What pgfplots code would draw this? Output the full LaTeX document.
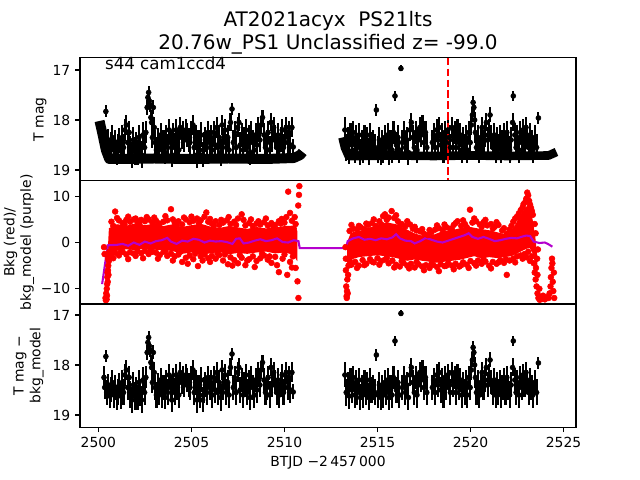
\documentclass[border=0pt]{standalone}
\usepackage{pgfplots}
\pgfplotsset{compat=1.18}
\usepackage{pgfplotstable}
\usepackage{fontspec}
\setmainfont{DejaVu Sans}
\definecolor{mpurple}{RGB}{180,0,205}

\pgfplotstableread{
t m e
2500.30 18.25 0.22
2500.34 18.45 0.24
2500.40 17.83 0.12
2500.45 18.55 0.25
2500.52 18.40 0.22
2500.60 18.62 0.25
2500.68 18.50 0.25
2500.75 18.35 0.24
2500.83 18.60 0.26
2500.90 18.45 0.25
2500.98 18.65 0.25
2501.05 18.55 0.26
2501.12 18.40 0.24
2501.20 18.62 0.27
2501.28 18.35 0.24
2501.35 18.55 0.26
2501.42 18.20 0.22
2501.50 18.10 0.20
2501.57 18.45 0.25
2501.65 18.25 0.23
2501.72 18.60 0.27
2501.80 18.70 0.26
2501.88 18.40 0.25
2501.95 18.62 0.28
2502.02 18.50 0.26
2502.10 18.65 0.25
2502.18 18.35 0.24
2502.25 18.55 0.27
2502.32 18.70 0.27
2502.40 18.30 0.25
2502.48 18.55 0.26
2502.55 18.25 0.22
2502.62 17.75 0.15
2502.66 17.55 0.12
2502.70 17.45 0.12
2502.74 17.62 0.13
2502.78 17.70 0.14
2502.82 17.95 0.15
2502.86 18.05 0.18
2502.90 18.35 0.22
2502.95 17.75 0.14
2503.00 18.15 0.20
2503.05 18.45 0.25
2503.12 18.60 0.26
2503.20 18.40 0.24
2503.28 18.55 0.26
2503.35 18.30 0.24
2503.42 18.60 0.27
2503.50 18.45 0.25
2503.58 18.65 0.24
2503.65 18.35 0.24
2503.72 18.55 0.26
2503.80 18.20 0.22
2503.88 18.45 0.25
2503.95 18.70 0.25
2504.02 18.30 0.24
2504.10 18.55 0.26
2504.18 18.20 0.22
2504.25 18.45 0.25
2504.32 18.60 0.26
2504.40 18.15 0.21
2504.48 18.35 0.23
2504.55 18.25 0.22
2504.62 18.40 0.24
2504.70 18.20 0.22
2504.78 18.30 0.24
2504.85 18.40 0.24
2504.92 18.45 0.25
2505.00 18.25 0.23
2505.08 18.10 0.20
2505.15 18.55 0.26
2505.22 18.35 0.25
2505.30 18.70 0.27
2505.38 18.45 0.25
2505.45 18.60 0.27
2505.52 18.30 0.25
2505.60 18.70 0.25
2505.68 18.50 0.26
2505.75 18.40 0.25
2505.82 18.55 0.26
2505.90 18.25 0.22
2505.98 18.45 0.25
2506.05 18.35 0.24
2506.12 18.60 0.27
2506.20 18.25 0.23
2506.28 18.50 0.26
2506.35 18.15 0.21
2506.42 18.55 0.26
2506.50 18.35 0.24
2506.58 18.65 0.27
2506.65 18.10 0.20
2506.72 18.45 0.25
2506.80 18.20 0.22
2506.88 18.55 0.26
2506.95 18.35 0.24
2507.02 18.60 0.26
2507.10 18.05 0.18
2507.18 17.78 0.12
2507.25 18.45 0.25
2507.32 18.25 0.23
2507.40 18.55 0.26
2507.48 18.15 0.20
2507.55 18.05 0.18
2507.62 18.50 0.26
2507.70 18.30 0.24
2507.78 18.60 0.27
2507.85 18.40 0.25
2507.92 18.20 0.22
2508.00 18.55 0.26
2508.08 18.35 0.24
2508.15 18.65 0.25
2508.22 18.25 0.23
2508.30 18.45 0.25
2508.38 18.60 0.27
2508.45 18.30 0.24
2508.52 18.50 0.26
2508.60 18.15 0.21
2508.68 18.40 0.25
2508.75 18.10 0.18
2508.82 17.95 0.15
2508.90 18.30 0.24
2508.98 18.55 0.26
2509.05 18.45 0.25
2509.12 18.25 0.23
2509.20 18.60 0.27
2509.28 18.05 0.18
2509.35 18.40 0.25
2509.42 18.15 0.21
2509.50 18.35 0.24
2509.58 18.55 0.26
2509.65 18.30 0.24
2509.72 18.60 0.26
2509.80 18.40 0.25
2509.88 18.20 0.22
2509.95 18.55 0.26
2510.02 18.35 0.24
2510.10 18.15 0.21
2510.18 18.45 0.25
2510.25 18.25 0.23
2510.32 18.50 0.26
2510.40 18.15 0.20
2510.47 18.54 0.15
2513.25 18.20 0.25
2513.32 18.55 0.27
2513.40 18.40 0.25
2513.48 18.62 0.26
2513.55 18.30 0.24
2513.62 18.50 0.26
2513.70 18.25 0.23
2513.78 18.60 0.27
2513.85 18.35 0.24
2513.92 18.55 0.26
2514.00 18.30 0.24
2514.08 18.65 0.26
2514.15 18.45 0.25
2514.22 18.60 0.27
2514.30 18.35 0.24
2514.38 18.55 0.26
2514.45 18.40 0.25
2514.52 18.65 0.25
2514.60 18.30 0.24
2514.68 18.50 0.26
2514.75 18.45 0.25
2514.85 18.55 0.26
2514.94 17.80 0.12
2515.02 18.60 0.27
2515.10 18.40 0.25
2515.18 18.65 0.26
2515.25 18.45 0.25
2515.32 18.60 0.27
2515.40 18.35 0.24
2515.48 18.55 0.26
2515.55 18.30 0.24
2515.62 18.65 0.26
2515.70 18.45 0.25
2515.78 18.60 0.27
2515.86 18.25 0.23
2515.94 17.52 0.10
2516.02 18.50 0.26
2516.10 18.35 0.24
2516.18 18.60 0.27
2516.26 16.97 0.06
2516.34 18.45 0.25
2516.42 18.25 0.23
2516.50 18.55 0.26
2516.58 18.40 0.25
2516.66 18.65 0.25
2516.74 18.20 0.22
2516.82 18.05 0.18
2516.90 18.35 0.24
2516.98 18.55 0.26
2517.05 18.25 0.23
2517.12 18.60 0.27
2517.20 18.40 0.25
2517.28 18.15 0.21
2517.35 18.30 0.24
2517.42 18.10 0.20
2517.50 18.45 0.25
2517.58 18.25 0.23
2517.65 18.55 0.26
2517.95 18.45 0.25
2518.02 18.30 0.24
2518.10 18.55 0.26
2518.18 18.20 0.22
2518.25 18.40 0.25
2518.32 18.15 0.21
2518.40 18.50 0.26
2518.48 18.30 0.24
2518.55 18.60 0.27
2518.62 18.25 0.23
2518.70 18.45 0.25
2518.78 18.20 0.22
2518.85 18.35 0.24
2518.92 18.55 0.26
2519.00 18.15 0.21
2519.08 18.40 0.25
2519.15 18.25 0.23
2519.22 18.55 0.26
2519.30 18.20 0.22
2519.38 18.45 0.25
2519.45 18.30 0.24
2519.52 18.60 0.27
2519.60 18.40 0.25
2519.68 18.55 0.26
2519.75 18.35 0.24
2519.82 18.60 0.27
2519.90 18.25 0.23
2519.98 18.45 0.25
2520.05 18.10 0.20
2520.10 17.90 0.15
2520.14 17.65 0.12
2520.18 17.75 0.13
2520.22 18.00 0.16
2520.26 18.25 0.22
2520.32 18.55 0.26
2520.40 18.35 0.24
2520.48 18.60 0.27
2520.55 18.40 0.25
2520.62 18.15 0.21
2520.70 18.45 0.25
2520.78 18.30 0.24
2520.85 18.05 0.18
2520.92 18.40 0.25
2521.00 18.20 0.22
2521.05 17.90 0.15
2521.12 18.35 0.24
2521.20 18.55 0.26
2521.28 18.30 0.24
2521.35 18.60 0.27
2521.42 18.40 0.25
2521.50 18.55 0.26
2521.58 18.35 0.24
2521.65 18.60 0.27
2521.72 18.45 0.25
2521.80 18.30 0.24
2521.88 18.55 0.26
2521.95 18.25 0.23
2522.02 18.45 0.25
2522.10 18.60 0.27
2522.18 18.40 0.25
2522.26 18.05 0.18
2522.30 17.52 0.10
2522.38 18.30 0.24
2522.45 18.55 0.26
2522.52 18.35 0.24
2522.60 18.60 0.27
2522.68 18.25 0.23
2522.75 18.45 0.25
2522.82 18.20 0.22
2522.90 18.40 0.25
2522.98 18.15 0.21
2523.05 18.35 0.24
2523.12 18.55 0.26
2523.20 18.30 0.24
2523.28 18.45 0.25
2523.35 18.60 0.26
2523.45 18.35 0.24
2523.55 18.55 0.26
2523.65 17.96 0.12
}\spikes

\pgfplotsset{
  every axis/.style={
    scale only axis, width=357.12pt, height=88.704pt,
    xmin=2499.01, xmax=2525.67,
    axis line style={line width=0.8pt},
    tick style={line width=0.8pt, black},
    tick align=outside, major tick length=3.5pt,
    xtick pos=bottom, ytick pos=left,
    /pgf/number format/assume math mode=true,
    tick label style={font=\fontsize{10}{12}\selectfont},
    label style={font=\fontsize{10}{12}\selectfont},
    anchor=south west,
  },
}

\begin{document}
\begin{tikzpicture}
\path[use as bounding box] (0,0) rectangle (460.8pt,345.6pt);

% ---------- top panel ----------
\begin{axis}[name=top, at={(57.6pt,215.424pt)},
  y dir=reverse, ymin=16.752, ymax=19.216,
  ytick={17,18,19}, yticklabels={17,18,19}, xtick=\empty,
  ylabel={T mag},
  ylabel style={at={(axis description cs:-0.0806,0.5)}, anchor=center},
]
\addplot[black, line width=7.2pt, line join=round] coordinates {
(2500.06,18.02) (2500.20,18.25) (2500.40,18.60) (2500.58,18.78) (2501.0,18.78)
(2503.0,18.77) (2505.0,18.78) (2507.0,18.77) (2509.0,18.78) (2510.5,18.76)
(2510.85,18.70) (2510.98,18.64)};
\addplot[black, line width=6.2pt, line join=round] coordinates {
(2513.12,18.35) (2513.25,18.55) (2513.45,18.72) (2514.0,18.72) (2516.0,18.71)
(2518.0,18.72) (2520.0,18.71) (2522.0,18.72) (2524.2,18.71) (2524.62,18.64)};
\addplot[black, only marks, mark=*, mark size=1.8pt,
  error bars/.cd, y dir=both, y explicit, error mark=none,
  error bar style={line width=1.5pt, black}]
  table[x=t, y=m, y error=e] {\spikes};
\addplot[red, line width=1.5pt, dash pattern=on 5.5pt off 2.4pt]
  coordinates {(2518.81,16.752) (2518.81,19.216)};
\end{axis}

% ---------- middle panel ----------
\begin{axis}[name=mid, at={(57.6pt,126.72pt)},
  ymin=-13.3, ymax=13.35,
  ytick={-10,0,10}, yticklabels={−10,0,10}, xtick=\empty,
  ylabel={Bkg (red)/\\bkg\_model (purple)},
  ylabel style={at={(axis description cs:-0.123,0.5)}, anchor=center, align=center},
]
% dense core of the background points
\addplot[fill=red, draw=red, line width=1pt] coordinates {
(2500.55,-1) (2500.6,3.0) (2501.0,3.8) (2501.5,3.5) (2502.0,4.0) (2502.5,3.6)
(2503.0,3.9) (2503.5,3.4) (2504.0,3.8) (2504.5,3.2) (2505.0,3.6) (2505.5,3.9)
(2506.0,3.3) (2506.5,3.0) (2507.0,3.4) (2507.5,3.1) (2508.0,2.8) (2508.5,3.2)
(2509.0,2.9) (2509.5,3.1) (2510.0,3.4) (2510.5,3.5) (2510.65,2.5)
(2510.65,-3.5) (2510.5,-2.5) (2510.0,-2.0) (2509.5,-2.2) (2509.0,-1.8) (2508.5,-2.0)
(2508.0,-2.3) (2507.5,-2.1) (2507.0,-2.4) (2506.5,-1.9) (2506.0,-2.2) (2505.5,-2.5)
(2505.0,-2.0) (2504.5,-2.3) (2504.0,-1.7) (2503.5,-1.5) (2503.0,-1.4) (2502.5,-1.2)
(2502.0,-1.5) (2501.5,-1.3) (2501.0,-1.6) (2500.6,-2.0) (2500.55,-1)};
\addplot[fill=red, draw=red, line width=1pt] coordinates {
(2513.4,0) (2513.6,2.0) (2514.0,2.3) (2514.5,3.0) (2515.0,3.6) (2515.5,4.2)
(2516.0,3.8) (2516.5,2.8) (2517.0,1.8) (2517.5,1.2) (2518.0,1.5) (2518.5,2.3)
(2519.0,2.5) (2519.5,3.0) (2520.0,3.2) (2520.5,2.8) (2521.0,2.5) (2521.5,2.0)
(2522.0,1.5) (2522.4,3.5) (2522.8,6.5) (2523.1,8.0) (2523.3,5.0) (2523.45,1.0)
(2523.55,-3.0) (2523.55,-5) (2523.4,-2.5) (2523.2,-1.0) (2523.0,-1.2) (2522.6,-2.0)
(2522.2,-2.8) (2521.8,-3.0) (2521.4,-3.2) (2521.0,-3.0) (2520.6,-3.3) (2520.2,-2.8)
(2519.8,-3.2) (2519.4,-3.6) (2519.0,-3.8) (2518.6,-4.0) (2518.2,-4.2) (2517.8,-4.0)
(2517.4,-3.8) (2517.0,-3.5) (2516.6,-3.8) (2516.2,-3.4) (2515.8,-3.0) (2515.4,-2.8)
(2515.0,-2.6) (2514.5,-2.8) (2514.0,-3.0) (2513.6,-3.5) (2513.4,-4.0) (2513.4,0)};
% individual background points
\addplot[only marks, mark=*, mark size=2.1pt, mark options={fill=red, draw=red}] coordinates {
(2500.30,-1.0) (2500.33,-2.5) (2500.38,-12.0) (2500.40,-12.5) (2500.42,-11.0) (2500.44,-12.3)
(2500.45,-10.0) (2500.47,-9.0) (2500.48,-7.5) (2500.50,-8.5) (2500.51,-6.0) (2500.53,-5.0)
(2500.54,-7.0) (2500.56,-4.0) (2500.57,-3.0) (2500.59,-2.0) (2500.46,-11.5) (2500.49,-6.5)
(2500.52,-3.5)
(2500.7,4.5) (2500.9,6.7) (2501.1,4.8) (2501.3,4.2) (2501.5,4.9) (2501.7,4.5) (2501.9,5.0)
(2502.1,4.4) (2502.3,4.9) (2502.5,4.6) (2502.7,5.0) (2502.9,4.3) (2503.1,4.7) (2503.3,4.1)
(2503.5,4.5) (2503.9,7.2) (2503.7,4.8) (2504.1,4.3) (2504.3,4.6) (2504.5,3.9) (2504.7,5.0)
(2504.9,4.4) (2505.1,4.7) (2505.3,5.2) (2505.5,4.8) (2505.7,5.6) (2505.8,6.5) (2505.9,4.5)
(2506.1,4.1) (2506.3,4.6) (2506.5,3.8) (2506.7,4.3) (2506.9,4.8) (2507.1,4.0) (2507.3,4.5)
(2507.5,5.2) (2507.7,6.1) (2507.9,3.7) (2508.1,4.2) (2508.3,3.6) (2508.5,4.1) (2508.7,3.9)
(2508.9,4.4) (2509.1,3.7) (2509.3,4.2) (2509.5,3.8) (2509.7,4.6) (2509.85,5.1) (2510.0,4.3)
(2510.2,11.0) (2510.3,6.4) (2510.4,4.7) (2510.55,5.5) (2510.74,8.0) (2510.78,10.3) (2510.8,12.2)
(2510.6,4.0)
(2500.8,3.6) (2501.0,5.3) (2501.4,3.9) (2501.6,5.6) (2502.0,5.2) (2502.2,3.9) (2502.6,5.5)
(2503.0,5.4) (2503.2,3.8) (2503.6,5.7) (2504.0,5.0) (2504.2,3.7) (2504.6,5.4) (2505.0,5.6)
(2505.4,4.2) (2506.0,5.1) (2506.2,3.6) (2506.6,4.9) (2507.0,5.5) (2507.4,3.8) (2507.8,4.9)
(2508.2,5.0) (2508.6,4.6) (2509.0,5.2) (2509.4,3.5) (2509.8,4.1) (2510.1,5.5) (2510.5,3.0)
(2500.7,-2.5) (2500.9,-2.2) (2501.1,-2.8) (2501.3,-2.0) (2501.5,-2.6) (2501.7,-2.1) (2501.9,-2.4)
(2502.1,-1.9) (2502.3,-2.3) (2502.5,-1.8) (2502.7,-2.5) (2502.9,-2.0) (2503.1,-2.2) (2503.3,-2.7)
(2503.5,-2.0) (2503.7,-2.9) (2503.9,-2.4) (2504.1,-3.0) (2504.3,-2.6) (2504.5,-4.2) (2504.7,-3.3)
(2504.9,-2.8) (2505.1,-3.6) (2505.35,-5.1) (2505.5,-3.0) (2505.7,-2.6) (2505.9,-3.4) (2506.1,-2.9)
(2506.3,-3.5) (2506.5,-2.7) (2506.7,-3.9) (2506.96,-4.7) (2507.1,-3.2) (2507.3,-3.8) (2507.5,-4.5)
(2507.7,-3.3) (2507.9,-4.9) (2508.1,-3.6) (2508.3,-3.0) (2508.5,-4.0) (2508.7,-3.4) (2508.9,-2.8)
(2509.1,-3.7) (2509.3,-4.4) (2509.5,-3.1) (2509.7,-6.4) (2509.9,-3.5) (2510.15,-7.0) (2510.3,-4.2)
(2510.45,-3.0) (2510.6,-5.5) (2510.7,-8.4) (2510.75,-12.0)
(2500.8,-3.4) (2501.2,-1.9) (2501.6,-3.6) (2502.0,-2.9) (2502.4,-3.4) (2502.8,-1.7) (2503.2,-3.5)
(2503.6,-1.9) (2504.0,-3.9) (2504.4,-2.0) (2504.8,-4.6) (2505.2,-2.4) (2505.6,-3.9) (2506.0,-4.2)
(2506.4,-2.3) (2506.8,-2.6) (2507.2,-5.0) (2507.6,-2.7) (2508.0,-3.9) (2508.4,-5.3) (2508.8,-2.4)
(2509.2,-3.0) (2509.6,-4.9) (2510.0,-2.6) (2510.4,-5.4)
(2513.5,2.5) (2513.7,3.0) (2513.9,2.8) (2514.1,3.3) (2514.3,2.9) (2514.5,3.8) (2514.7,4.2)
(2514.9,3.6) (2515.1,4.6) (2515.3,5.7) (2515.5,4.9) (2515.76,6.8) (2515.9,5.3) (2516.1,4.6)
(2516.3,4.0) (2516.5,3.5) (2516.75,3.9) (2516.9,3.0) (2517.1,2.6) (2517.3,2.4) (2517.5,1.9)
(2517.7,1.6) (2517.9,2.2) (2518.1,2.8) (2518.3,3.1) (2518.5,2.7) (2518.7,3.3) (2518.9,3.0)
(2519.1,3.8) (2519.3,4.6) (2519.5,3.6) (2519.7,4.0) (2519.97,7.1) (2520.1,4.3) (2520.3,4.6)
(2520.5,3.9) (2520.7,4.4) (2520.9,3.7) (2521.1,4.0) (2521.3,3.4) (2521.5,3.8) (2521.7,2.6)
(2521.95,1.9) (2522.1,2.8) (2522.3,4.5) (2522.5,5.6) (2522.7,7.0) (2522.85,8.3) (2523.0,9.5)
(2523.1,10.2) (2523.15,9.0) (2523.25,7.5) (2523.35,6.0) (2523.45,4.0) (2523.5,2.0)
(2513.6,3.8) (2514.0,3.6) (2514.4,4.1) (2514.8,5.0) (2515.2,3.9) (2515.4,6.1) (2515.6,5.4)
(2516.0,5.9) (2516.2,3.5) (2516.6,4.6) (2517.0,3.4) (2517.4,2.9) (2517.8,2.7) (2518.2,3.7)
(2518.6,3.9) (2519.0,2.8) (2519.2,4.2) (2519.6,4.8) (2519.8,3.3) (2520.2,5.2) (2520.6,3.4)
(2520.8,4.9) (2521.2,3.0) (2521.4,4.4) (2521.8,3.1) (2522.2,3.6) (2522.4,5.2) (2522.6,6.3)
(2522.8,7.6) (2522.95,8.8) (2523.05,10.8) (2523.2,8.2) (2523.3,6.8)
(2513.28,-1.0) (2513.3,-6.0) (2513.32,-9.5) (2513.34,-11.6) (2513.36,-10.5) (2513.38,-8.0)
(2513.40,-11.0) (2513.42,-7.0) (2513.44,-5.0) (2513.3,-3.5) (2513.35,-12.0)
(2513.6,-4.8) (2513.8,-4.2) (2514.0,-5.0) (2514.2,-3.8) (2514.4,-4.6) (2514.6,-3.6) (2514.8,-4.3)
(2515.0,-3.4) (2515.2,-4.0) (2515.4,-3.7) (2515.6,-4.5) (2515.8,-3.9) (2516.0,-4.8) (2516.2,-5.2)
(2516.4,-4.4) (2516.6,-5.0) (2516.8,-4.6) (2517.0,-5.4) (2517.2,-4.7) (2517.4,-5.2) (2517.6,-4.9)
(2517.8,-5.5) (2518.0,-4.8) (2518.2,-5.3) (2518.4,-4.7) (2518.6,-5.1) (2518.8,-4.5) (2519.0,-5.0)
(2519.2,-4.6) (2519.4,-5.2) (2519.6,-4.3) (2519.8,-4.8) (2520.0,-4.0) (2520.2,-4.5) (2520.4,-3.9)
(2520.6,-4.6) (2520.8,-4.1) (2521.0,-5.0) (2521.2,-4.2) (2521.4,-4.6) (2521.6,-3.8) (2521.8,-4.4)
(2521.95,-7.0) (2522.1,-3.9) (2522.3,-3.5) (2522.5,-3.0) (2522.7,-2.8) (2522.9,-2.5) (2523.1,-2.0)
(2523.3,-3.0)
(2513.5,-3.9) (2513.9,-5.5) (2514.3,-4.9) (2514.7,-4.1) (2515.1,-4.8) (2515.5,-3.3) (2515.9,-5.4)
(2516.3,-4.0) (2516.7,-5.6) (2517.1,-4.2) (2517.5,-6.0) (2517.9,-4.6) (2518.3,-6.2) (2518.7,-5.0)
(2519.1,-5.8) (2519.5,-4.9) (2519.9,-5.5) (2520.3,-5.0) (2520.7,-3.7) (2521.1,-5.6) (2521.5,-4.3)
(2521.9,-3.6) (2522.4,-4.3) (2522.8,-3.5) (2523.0,-3.2) (2523.2,-4.0)
(2523.4,-4.5) (2523.45,-6.5) (2523.5,-8.0) (2523.55,-9.5) (2523.6,-7.0) (2523.6,-11.0)
(2523.65,-12.0) (2523.7,-10.0) (2523.72,-12.4) (2523.8,-11.8) (2523.85,-12.2) (2523.9,-11.5)
(2524.0,-12.3) (2524.1,-11.8) (2524.2,-12.0) (2524.25,-11.0) (2524.3,-9.5) (2524.32,-7.5)
(2524.35,-5.5) (2524.38,-3.5) (2524.4,-4.5) (2524.42,-8.5) (2524.45,-10.5) (2524.5,-12.0)
(2524.48,-6.5) (2523.52,-5.5) (2523.58,-3.5) (2523.62,-1.5)};
% background model
\addplot[mpurple, line width=1.5pt] coordinates {
(2500.2,-9.0) (2500.5,-0.6) (2501.0,-0.5) (2501.3,-0.3) (2501.6,-0.7) (2501.9,0.0) (2502.2,-0.5)
(2502.5,0.2) (2502.8,-0.2) (2503.1,0.3) (2503.4,0.5) (2503.7,1.0) (2503.9,0.2) (2504.2,-0.3)
(2504.5,0.4) (2504.8,0.2) (2505.1,0.8) (2505.4,0.6) (2505.7,0.0) (2506.0,0.4) (2506.3,0.2)
(2506.6,0.3) (2506.9,0.1) (2507.2,-0.3) (2507.4,0.8) (2507.6,0.9) (2507.8,-0.2) (2508.1,0.0)
(2508.4,0.4) (2508.7,0.7) (2509.0,0.3) (2509.3,0.5) (2509.6,0.9) (2509.9,0.1) (2510.2,0.0)
(2510.5,0.5) (2510.75,0.3) (2510.82,-1.2) (2513.3,-1.2) (2513.4,0.3) (2513.7,0.9) (2514.0,1.2)
(2514.3,0.6) (2514.6,0.8) (2514.9,0.5) (2515.2,0.9) (2515.5,0.7) (2515.8,1.1) (2516.0,1.8)
(2516.2,0.9) (2516.5,0.4) (2516.8,0.3) (2517.0,-0.2) (2517.3,0.3) (2517.6,1.0) (2517.9,0.6)
(2518.2,0.2) (2518.5,0.0) (2518.8,0.4) (2519.1,0.8) (2519.4,1.2) (2519.7,1.6) (2519.9,2.0)
(2520.1,1.2) (2520.4,0.8) (2520.7,1.2) (2521.0,0.8) (2521.3,0.3) (2521.6,0.5) (2521.9,0.8)
(2522.2,1.0) (2522.5,0.9) (2522.8,1.3) (2523.0,1.5) (2523.2,1.4) (2523.4,0.2) (2523.7,-0.1)
(2524.0,0.0) (2524.2,-0.4) (2524.4,-0.9)};
\end{axis}

% ---------- bottom panel ----------
\begin{axis}[name=bot, at={(57.6pt,38.016pt)},
  y dir=reverse, ymin=16.78, ymax=19.244,
  ytick={17,18,19}, yticklabels={17,18,19},
  xtick={2500,2505,2510,2515,2520,2525},
  xticklabels={2500,2505,2510,2515,2520,2525},
  ylabel={T mag −\\bkg\_model},
  ylabel style={at={(axis description cs:-0.1038,0.5)}, anchor=center, align=center},
  xlabel={BTJD −2\,457\,000},
  xlabel style={at={(axis description cs:0.5,0)}, anchor=center, yshift=-25.8pt},
]
\addplot[black, only marks, mark=*, mark size=1.8pt,
  error bars/.cd, y dir=both, y explicit, error mark=none,
  error bar style={line width=1.5pt, black}]
  table[x=t, y=m, y error=e] {\spikes};
\end{axis}

% titles and annotation
\node[anchor=base, inner sep=0, font=\fontsize{14.4}{17}\selectfont] at (236.16pt,326.2pt) {AT2021acyx\ \ PS21lts};
\node[anchor=base, inner sep=0, font=\fontsize{14.4}{17}\selectfont] at (236.16pt,310.0pt) {20.76w\_PS1 Unclassified z= -99.0};
\node[anchor=base west, inner sep=0, font=\fontsize{12}{14}\selectfont] at (75.456pt,295.26pt) {s44 cam1ccd4};
\end{tikzpicture}
\end{document}
